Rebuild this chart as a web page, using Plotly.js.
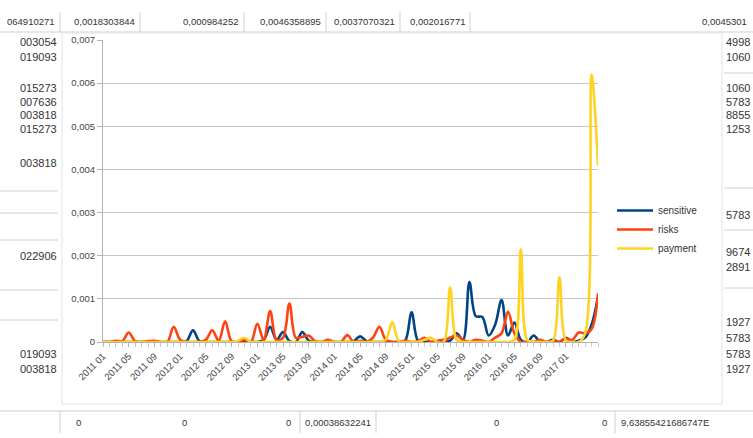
<!DOCTYPE html>
<html><head><meta charset="utf-8">
<script src="https://cdn.plot.ly/plotly-3.0.1.min.js"></script>
<style>html,body{margin:0;padding:0;background:#fff;}#chart{width:753px;height:438px;}</style>
</head><body><div id="chart"></div>
<script>
// ---- categories (months 2011-01 .. 2017-06) ----
const years = [2011, 2012, 2013, 2014, 2015, 2016, 2017];
const monthCodes = ["01","02","03","04","05","06","07","08","09","10","11","12"];
const categoryCount = 78;
const categories = [];
for (const y of years) for (const m of monthCodes) if (categories.length < categoryCount) categories.push(y + " " + m);

// ---- series values ----
const sensitive = [
  0,0,0,0,0,0,0,0,0,0,
  0,0,0,0.00002,0.00027,0.00002,0,0,0,0,
  0,0,0,0,0,0.00005,0.00035,0.00005,0.00023,0.00002,
  0,0.00023,0.00003,0,0,0,0,0,0,0.00002,
  0.00013,0.00002,0,0,0,0,0,0.00003,0.00069,0.00003,
  0,0,0,0,0.00003,0.0002,0.00005,0.00139,0.0006,0.00058,
  0.00015,0.0004,0.00097,0.00015,0.00045,0.00005,0,0.00015,0,0,
  0.00005,0,0.0001,0,0.00003,0.0001,0.0004,0.00105
];
const risks = [
  0,0,0.00003,0.00002,0.00022,0.00002,0,0.00002,0.00003,0,
  0,0.00035,0.00005,0,0,0,0.00005,0.00027,0.00003,0.00048,
  0.00002,0,0.00005,0,0.00042,0.00005,0.00072,0.00005,0.0001,0.00089,
  0.0001,0.00012,0.00015,0.00002,0,0.00005,0,0,0.00016,0,
  0.00003,0,0.0001,0.00035,0.00005,0,0,0.00003,0,0.00002,
  0.0001,0,0.00003,0.00005,0.0001,0.00015,0.00005,0,0.00005,0.00003,
  0,0.0001,0.0002,0.0007,0.0002,0,0,0,0.00005,0,
  0.00002,0,0.00008,0.00005,0.00022,0.0002,0.0003,0.00113
];
const payment = [
  0,0,0,0,0,0,0,0,0,0,
  0,0,0,0,0,0,0,0,0,0,
  0,0.00003,0.0001,0,0,0,0,0,0,0,
  0,0,0,0,0,0,0,0,0,0,
  0,0,0,0,0.00005,0.00046,0.00002,0,0,0,
  0.00005,0.0001,0,0,0.00127,0.00005,0,0,0,0,
  0,0,0,0,0.00005,0.00215,0.00005,0,0,0,
  0.00003,0.0015,0.00003,0,0,0.0002,0.0062,0.0041
];
const seriesNames = ["sensitive", "risks", "payment"];

// ---- tick labels ----
const xTickStep = 4;
const xTickLast = 72; // last labelled category: 2017 01
const yTickVals = [0, 0.001, 0.002, 0.003, 0.004, 0.005, 0.006, 0.007];
const yTickText = ["0", "0,001", "0,002", "0,003", "0,004", "0,005", "0,006", "0,007"];

// ---- surrounding spreadsheet cell text ----
const topRowText = ["064910271", "0,0018303844", "0,000984252", "0,0046358895", "0,0037070321", "0,002016771", "0,0045301"];
const bottomRowText = ["0", "0", "0", "0,00038632241", "0", "0", "9,63855421686747E"];
const leftColText = ["003054", "019093", "015273", "007636", "003818", "015273", "003818", "022906", "019093", "003818"];
const rightColText = ["4998", "1060", "1060", "5783", "8855", "1253", "5783", "9674", "2891", "1927", "5783", "5783", "1927"];

// ---- layout geometry (pixels) ----
const W = 753, H = 438;
const L = 103, R = 598, T = 40, B = 342;
const px = x => (x - L) / (R - L);
const py = y => (B - y) / (B - T);

const tickvals = [], ticktext = [];
for (let i = 0; i <= xTickLast; i += xTickStep) { tickvals.push(i); ticktext.push(categories[i]); }
const xIdx = categories.map((_, i) => i);

const colors = ["#004586", "#ff420e", "#ffd320"];
const values = [sensitive, risks, payment];
const traces = values.map((v, k) => ({
  x: xIdx, y: v, name: seriesNames[k], type: "scatter", mode: "lines",
  line: {color: colors[k], width: 2.6, shape: "spline", smoothing: 1},
  hoverinfo: "skip"
}));

const cellFont = {family: "Liberation Sans, Arial, sans-serif", size: 9.5, color: "#333"};
const ann = [];
const topX = [57, 137, 240, 323, 397, 467, 700];
topRowText.forEach((t, i) => ann.push({text: t, x: px(topX[i]), y: py(22), xref: "paper", yref: "paper",
  xanchor: i === 6 ? "left" : "right", yanchor: "middle", showarrow: false, font: cellFont}));
const botX = [83, 189, 293, 373, 501, 609, 619];
bottomRowText.forEach((t, i) => ann.push({text: t, x: px(botX[i]), y: py(422), xref: "paper", yref: "paper",
  xanchor: i === 6 ? "left" : "right", yanchor: "middle", showarrow: false, font: cellFont}));
const leftY = [42, 57, 88, 102, 115, 129, 163, 256, 354, 369];
leftColText.forEach((t, i) => ann.push({text: t, x: px(59), y: py(leftY[i]), xref: "paper", yref: "paper",
  xanchor: "right", yanchor: "middle", showarrow: false, font: {...cellFont, size: 11}}));
const rightY = [42, 57, 88, 102, 115, 129, 215, 252, 267, 322, 338, 354, 369];
rightColText.forEach((t, i) => ann.push({text: t, x: px(724), y: py(rightY[i]), xref: "paper", yref: "paper",
  xanchor: "left", yanchor: "middle", showarrow: false, font: {...cellFont, size: 11}}));

const lineStyle = {color: "#d0d0d0", width: 1};
const shapes = [];
const hl = (x0, x1, y) => shapes.push({type: "line", xref: "paper", yref: "paper", x0: px(x0), x1: px(x1), y0: py(y), y1: py(y), line: lineStyle, layer: "below"});
const vl = (x, y0, y1) => shapes.push({type: "line", xref: "paper", yref: "paper", x0: px(x), x1: px(x), y0: py(y0), y1: py(y1), line: lineStyle, layer: "below"});
hl(0, 753, 32); hl(0, 753, 411);
[60, 140, 244, 326, 400, 470].forEach(x => vl(x, 12, 32));
[60, 300, 376, 615].forEach(x => vl(x, 411, 433));
[191, 213, 240, 290, 320].forEach(y => hl(0, 58, y));
[73, 188, 230, 288].forEach(y => hl(724, 753, y));
// chart frame
shapes.push({type: "rect", xref: "paper", yref: "paper", x0: px(62), x1: px(722), y0: py(33), y1: py(404),
  line: {color: "#e4e4e4", width: 1}, fillcolor: "rgba(0,0,0,0)", layer: "below"});

const layout = {
  width: W, height: H,
  margin: {l: L, r: W - R, t: T, b: H - B},
  paper_bgcolor: "#fff", plot_bgcolor: "#fff",
  font: {family: "Liberation Sans, Arial, sans-serif", size: 9, color: "#333"},
  showlegend: true,
  legend: {x: px(612), y: py(196), xanchor: "left", yanchor: "top", bgcolor: "rgba(0,0,0,0)",
    font: {size: 10, color: "#333"}, tracegroupgap: 0, itemwidth: 36},
  xaxis: {range: [0, categories.length - 1], tickvals: tickvals, ticktext: ticktext, tickangle: -45,
    showgrid: false, zeroline: false, showline: true, linecolor: "#b3b3b3", linewidth: 1,
    ticks: "outside", ticklen: 4, tickcolor: "#b3b3b3",
    minor: {ticks: "outside", dtick: 1, tick0: 0, ticklen: 4, tickcolor: "#c8c8c8"},
    tickfont: {size: 9.5, color: "#444"}, fixedrange: true},
  yaxis: {range: [0, 0.007], tickvals: yTickVals, ticktext: yTickText, showgrid: true, gridcolor: "#c6c6c6",
    zeroline: false, showline: true, linecolor: "#b3b3b3", ticks: "outside", ticklen: 5, tickcolor: "#b3b3b3",
    tickfont: {size: 9.5, color: "#444"}, fixedrange: true},
  annotations: ann,
  shapes: shapes
};
Plotly.newPlot("chart", traces, layout, {staticPlot: true, displayModeBar: false});
</script></body></html>
